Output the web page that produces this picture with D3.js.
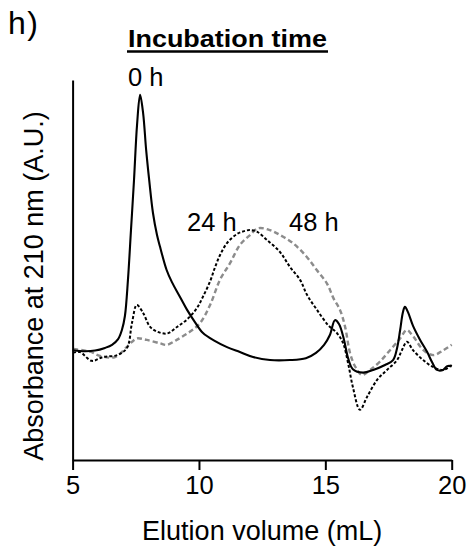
<!DOCTYPE html>
<html><head><meta charset="utf-8">
<script src="https://cdn.jsdelivr.net/npm/d3@7"></script>
<style>
html,body{margin:0;padding:0;background:#fff;}
text{font-family:"Liberation Sans",Arial,sans-serif;fill:#000;}
</style></head>
<body><svg id="chart" width="469" height="552"></svg>
<script>
// Elution volume (mL) and absorbance (A.U., relative)
const vol0h = [5.00,5.49,5.89,6.28,6.56,6.80,6.95,7.07,7.19,7.31,7.43,7.55,7.67,7.79,7.91,8.03,8.18,8.34,8.46,8.72,8.93,9.25,9.53,9.84,10.16,10.64,11.11,11.62,12.14,12.81,13.60,14.23,14.63,14.95,15.18,15.38,15.54,15.74,15.90,16.09,16.49,16.89,17.36,17.68,17.84,17.96,18.07,18.15,18.27,18.47,18.75,19.03,19.22,19.42,19.66,19.82,20.00];
const abs0h = [0.289,0.286,0.288,0.295,0.303,0.318,0.342,0.379,0.474,0.605,0.737,0.882,0.961,0.913,0.816,0.737,0.650,0.592,0.561,0.500,0.468,0.429,0.395,0.363,0.334,0.313,0.297,0.284,0.271,0.263,0.263,0.268,0.282,0.303,0.329,0.368,0.358,0.316,0.268,0.239,0.230,0.237,0.250,0.263,0.295,0.342,0.389,0.403,0.389,0.353,0.316,0.284,0.258,0.237,0.237,0.247,0.247];

const vol24h = [5.02,5.29,5.76,6.20,6.76,7.15,7.35,7.54,7.79,8.06,8.34,8.74,9.13,9.53,9.92,10.16,10.44,10.64,10.84,11.11,11.51,11.82,12.01,12.29,12.69,13.21,13.60,14.00,14.28,14.67,15.11,15.46,15.70,15.90,16.09,16.37,16.65,17.05,17.44,17.84,18.03,18.23,18.47,18.87,19.26,19.66,20.00];
const abs24h = [0.282,0.284,0.261,0.271,0.276,0.295,0.361,0.408,0.387,0.351,0.338,0.333,0.350,0.370,0.400,0.430,0.470,0.508,0.540,0.571,0.595,0.603,0.605,0.601,0.579,0.547,0.508,0.474,0.434,0.395,0.355,0.334,0.308,0.255,0.192,0.132,0.166,0.211,0.237,0.263,0.289,0.311,0.289,0.263,0.245,0.237,0.250];

const vol48h = [5.03,5.69,6.08,6.68,7.15,7.35,7.54,7.93,8.46,8.72,9.12,9.65,10.04,10.44,10.83,11.23,11.62,12.02,12.35,12.81,13.21,13.73,14.26,14.66,15.06,15.32,15.58,15.78,15.98,16.18,16.44,16.77,17.16,17.56,17.96,18.22,18.48,18.88,19.27,19.67,20.00];
const abs48h = [0.292,0.285,0.274,0.271,0.298,0.311,0.320,0.316,0.307,0.303,0.316,0.338,0.360,0.408,0.474,0.518,0.566,0.592,0.610,0.605,0.592,0.570,0.535,0.500,0.465,0.426,0.395,0.351,0.281,0.246,0.224,0.237,0.259,0.289,0.320,0.342,0.325,0.289,0.276,0.289,0.303];

const seriesNames = ["0 h","24 h","48 h"];
const xTicks = [5,10,15,20];
const xTitle = "Elution volume (mL)";
const yTitle = "Absorbance at 210 nm (A.U.)";
const chartTitle = "Incubation time";
const panelLabel = "h)";

const svg = d3.select("#chart");
const FONT = '"Liberation Sans",Arial,sans-serif';
const mLeft = 72.6, mRight = 451.7, mTop = 80, mBottom = 460;

const x = d3.scaleLinear().domain([5,20]).range([mLeft,mRight]);
const y = d3.scaleLinear().domain([0,1]).range([mBottom,mTop]);

const toPts = (v,a)=>v.map((d,i)=>[d,a[i]]);
const line = d3.line().x(d=>x(d[0])).y(d=>y(d[1])).curve(d3.curveCatmullRom.alpha(0.5));

const series = [
  {name:"48 h", pts:toPts(vol48h,abs48h), color:"#8c8c8c", width:2.4, dash:"5,3"},
  {name:"24 h", pts:toPts(vol24h,abs24h), color:"#000", width:2, dash:"3,2"},
  {name:"0 h", pts:toPts(vol0h,abs0h), color:"#000", width:2.1, dash:null}
];
series.forEach(s=>{
  svg.append("path").attr("d",line(s.pts)).attr("fill","none")
    .attr("stroke",s.color).attr("stroke-width",s.width)
    .attr("stroke-dasharray",s.dash).attr("stroke-linejoin","round");
});

// axes
const xAxis = svg.append("g").attr("transform",`translate(0,${mBottom})`)
  .call(d3.axisBottom(x).tickValues(xTicks).tickSize(10).tickSizeOuter(0).tickPadding(6).tickFormat(d3.format("d")));
xAxis.select(".domain").attr("stroke","#000").attr("stroke-width",2);
xAxis.selectAll(".tick line").attr("stroke","#000").attr("stroke-width",2);
xAxis.selectAll(".tick text").attr("font-size",25.5).attr("font-family",FONT).attr("fill","#000");

const yAxis = svg.append("g").attr("transform",`translate(${mLeft},0)`)
  .call(d3.axisLeft(y).tickValues([]).tickSizeOuter(0));
yAxis.select(".domain").attr("stroke","#000").attr("stroke-width",2);

// titles
svg.append("text").attr("x",(mLeft+mRight)/2).attr("y",540).attr("text-anchor","middle")
  .attr("font-size",27).text(xTitle);
svg.append("text").attr("transform","translate(43,286) rotate(-90)").attr("text-anchor","middle")
  .attr("font-size",27).text(yTitle);
svg.append("text").attr("x",8).attr("y",34).attr("font-size",32).attr("letter-spacing",1.5).text(panelLabel);
svg.append("text").attr("x",128).attr("y",47)
  .attr("font-size",24.5).attr("font-weight","bold")
  .attr("textLength",199).attr("lengthAdjust","spacingAndGlyphs").text(chartTitle);
svg.append("line").attr("x1",127).attr("x2",328).attr("y1",51.5).attr("y2",51.5)
  .attr("stroke","#000").attr("stroke-width",2.5);

// series labels
const labelPos = {"0 h":[128,86],"24 h":[187,231],"48 h":[289,231]};
seriesNames.forEach(n=>{
  svg.append("text").attr("x",labelPos[n][0]).attr("y",labelPos[n][1]).attr("font-size",25.5).text(n);
});
</script></body></html>
